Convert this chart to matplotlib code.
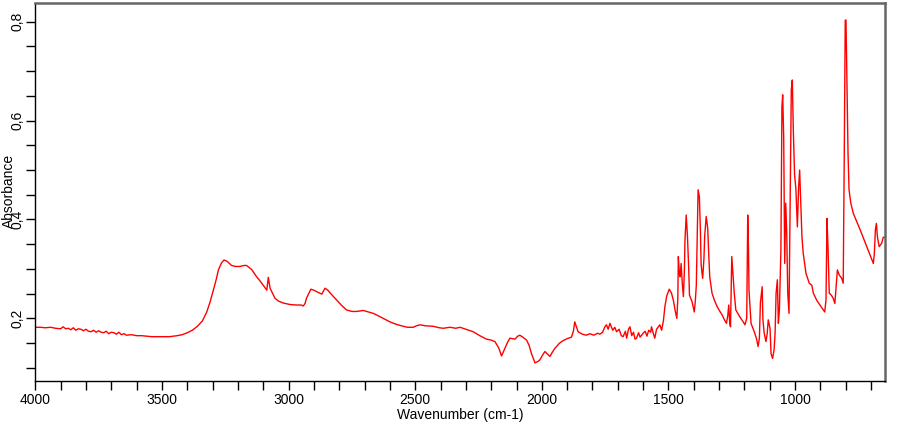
import matplotlib
matplotlib.use("Agg")
import matplotlib.pyplot as plt
from matplotlib.ticker import MultipleLocator, FuncFormatter

plt.rcParams['font.family'] = ['Liberation Sans', 'DejaVu Sans']

wavenumber = [
    4000, 3980, 3960, 3940, 3920, 3900, 3890, 3880, 3870, 3860, 3850, 3840, 3830, 3820, 3810,
    3800, 3790, 3780, 3770, 3760, 3750, 3740, 3730, 3720, 3710, 3700, 3690, 3680, 3670, 3660,
    3650, 3640, 3620, 3600, 3580, 3560, 3540, 3520, 3500, 3470, 3440, 3420, 3400, 3380, 3360,
    3340, 3323, 3310, 3297, 3285, 3277, 3265, 3255, 3245, 3238, 3225, 3210, 3192, 3175, 3166,
    3146, 3126, 3110, 3100, 3086, 3080, 3076, 3073, 3054, 3040, 3021, 2994, 2968, 2950, 2942,
    2935, 2929, 2912, 2900, 2889, 2869, 2856, 2845, 2837, 2810, 2790, 2771, 2750, 2731, 2705,
    2685, 2665, 2645, 2626, 2600, 2575, 2547, 2530, 2508, 2495, 2481, 2460, 2429, 2405, 2389,
    2363, 2340, 2323, 2300, 2271, 2245, 2218, 2200, 2185, 2170, 2159, 2146, 2135, 2126, 2106,
    2095, 2087, 2075, 2060, 2050, 2041, 2027, 2015, 2008, 1998, 1988, 1978, 1968, 1958, 1949,
    1930, 1916, 1900, 1883, 1875, 1870, 1863, 1857, 1840, 1824, 1810, 1795, 1780, 1771, 1760,
    1752, 1745, 1738, 1731, 1720, 1712, 1705, 1695, 1686, 1679, 1670, 1665, 1658, 1652, 1645,
    1638, 1632, 1626, 1618, 1612, 1606, 1600, 1592, 1585, 1578, 1570, 1567, 1560, 1554, 1547,
    1540, 1534, 1527, 1520, 1514, 1507, 1497, 1488, 1480, 1474, 1467, 1463, 1461, 1457, 1454,
    1450, 1445, 1441, 1437, 1435, 1430, 1425, 1420, 1417, 1407, 1398, 1394, 1390, 1386, 1383,
    1378, 1374, 1371, 1365, 1360, 1357, 1351, 1345, 1341, 1337, 1328, 1318, 1308, 1298, 1288,
    1280, 1271, 1266, 1262, 1258, 1255, 1252, 1250, 1244, 1240, 1234, 1218, 1205, 1198, 1191,
    1189, 1187, 1184, 1182, 1174, 1165, 1159, 1152, 1146, 1141, 1137, 1130, 1127, 1122, 1115,
    1110, 1106, 1099, 1095, 1089, 1083, 1079, 1075, 1070, 1066, 1062, 1056, 1052, 1049, 1045,
    1041, 1037, 1033, 1029, 1024, 1020, 1015, 1011, 1007, 1002, 997, 991, 986, 982, 978,
    973, 968, 957, 944, 934, 928, 915, 902, 883, 878, 874, 870, 865, 857, 849,
    843, 833, 826, 816, 810, 806, 802, 799, 795, 791, 787, 780, 770, 743, 717,
    691, 687, 683, 679, 675, 668, 658, 652, 645,
]

absorbance = [
    0.182, 0.182, 0.181, 0.182, 0.180, 0.179, 0.183, 0.179, 0.180, 0.177, 0.181, 0.176, 0.179, 0.178, 0.175,
    0.178, 0.174, 0.173, 0.176, 0.172, 0.175, 0.172, 0.171, 0.174, 0.169, 0.172, 0.171, 0.168, 0.172, 0.167,
    0.169, 0.166, 0.167, 0.165, 0.165, 0.164, 0.163, 0.163, 0.163, 0.163, 0.165, 0.167, 0.171, 0.176, 0.184,
    0.195, 0.213, 0.233, 0.257, 0.280, 0.298, 0.312, 0.318, 0.316, 0.313, 0.307, 0.305, 0.305, 0.307, 0.307,
    0.299, 0.284, 0.274, 0.267, 0.257, 0.283, 0.270, 0.261, 0.241, 0.235, 0.231, 0.228, 0.227, 0.227, 0.225,
    0.230, 0.241, 0.259, 0.257, 0.254, 0.249, 0.261, 0.257, 0.252, 0.237, 0.226, 0.217, 0.214, 0.214, 0.216,
    0.213, 0.210, 0.205, 0.200, 0.193, 0.188, 0.184, 0.182, 0.182, 0.185, 0.187, 0.185, 0.184, 0.181, 0.180,
    0.182, 0.180, 0.182, 0.178, 0.173, 0.165, 0.158, 0.156, 0.153, 0.140, 0.124, 0.139, 0.152, 0.160, 0.158,
    0.164, 0.166, 0.162, 0.156, 0.145, 0.129, 0.110, 0.113, 0.116, 0.125, 0.133, 0.128, 0.123, 0.132, 0.139,
    0.150, 0.155, 0.159, 0.162, 0.175, 0.193, 0.182, 0.173, 0.168, 0.166, 0.169, 0.166, 0.170, 0.168, 0.172,
    0.182, 0.187, 0.178, 0.190, 0.176, 0.182, 0.173, 0.178, 0.165, 0.163, 0.174, 0.160, 0.178, 0.183, 0.165,
    0.172, 0.158, 0.160, 0.171, 0.162, 0.166, 0.170, 0.174, 0.164, 0.176, 0.172, 0.183, 0.170, 0.160, 0.178,
    0.183, 0.187, 0.176, 0.195, 0.224, 0.245, 0.259, 0.251, 0.235, 0.217, 0.200, 0.240, 0.325, 0.290, 0.284,
    0.311, 0.267, 0.244, 0.300, 0.355, 0.409, 0.366, 0.300, 0.247, 0.234, 0.213, 0.235, 0.267, 0.380, 0.460,
    0.446, 0.380, 0.308, 0.281, 0.320, 0.366, 0.406, 0.382, 0.330, 0.284, 0.251, 0.236, 0.224, 0.215, 0.207,
    0.198, 0.190, 0.205, 0.227, 0.190, 0.183, 0.270, 0.325, 0.278, 0.250, 0.217, 0.203, 0.193, 0.187, 0.200,
    0.300, 0.409, 0.340, 0.257, 0.190, 0.178, 0.170, 0.158, 0.143, 0.160, 0.231, 0.264, 0.197, 0.170, 0.153,
    0.170, 0.197, 0.180, 0.129, 0.119, 0.136, 0.170, 0.251, 0.278, 0.190, 0.217, 0.338, 0.628, 0.652, 0.567,
    0.311, 0.433, 0.372, 0.251, 0.210, 0.419, 0.662, 0.682, 0.581, 0.490, 0.463, 0.385, 0.466, 0.500, 0.439,
    0.365, 0.332, 0.291, 0.271, 0.267, 0.251, 0.237, 0.227, 0.213, 0.237, 0.402, 0.342, 0.251, 0.247, 0.240,
    0.230, 0.298, 0.288, 0.281, 0.271, 0.520, 0.803, 0.803, 0.669, 0.534, 0.460, 0.433, 0.412, 0.379, 0.345,
    0.311, 0.332, 0.379, 0.392, 0.365, 0.345, 0.352, 0.364, 0.364,
]

x_label = "Wavenumber (cm-1)"
y_label = "Absorbance"

fig = plt.figure(figsize=(9, 4.25), dpi=100)
ax = fig.add_axes([35.3 / 900, 1 - 380.7 / 425, (885 - 35.3) / 900, (380.7 - 3.3) / 425])

ax.plot(wavenumber, absorbance, color='#ff0000', linewidth=1.0)

ax.set_xlim(4000, 645)
ax.set_ylim(0.074, 0.837)

ax.xaxis.set_major_locator(MultipleLocator(500))
ax.xaxis.set_minor_locator(MultipleLocator(100))
ax.yaxis.set_major_locator(MultipleLocator(0.2))
ax.yaxis.set_minor_locator(MultipleLocator(0.05))
ax.yaxis.set_major_formatter(FuncFormatter(lambda v, p: ('%.1f' % v).replace('.', ',')))
ax.xaxis.set_major_formatter(FuncFormatter(lambda v, p: '%d' % v))

ax.tick_params(axis='both', which='both', direction='out', length=6.5, width=1, color='black')
ax.tick_params(axis='x', which='major', labelsize=10, pad=2)
ax.tick_params(axis='y', which='major', labelsize=10, pad=1)
for lab in ax.get_yticklabels():
    lab.set_rotation(90)
    lab.set_va('center')

for side in ['left', 'bottom']:
    ax.spines[side].set_color('black')
    ax.spines[side].set_linewidth(1.0)
for side in ['top', 'right']:
    ax.spines[side].set_color('#666666')
    ax.spines[side].set_linewidth(1.8)

ax.set_xlabel(x_label, fontsize=10, labelpad=1)
fig.text(9 / 900, 1 - 191 / 425, y_label, rotation=90, fontsize=10, ha='center', va='center')

fig.savefig('out.png', dpi=100)
